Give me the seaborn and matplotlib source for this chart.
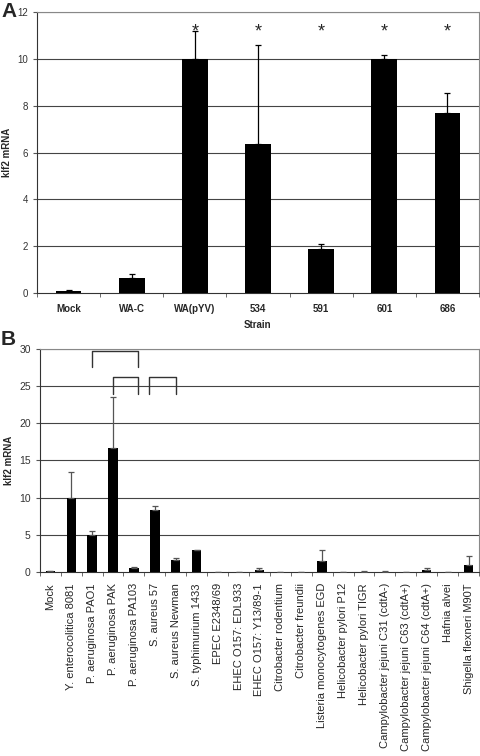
import numpy as np
import pandas as pd
import seaborn as sns
import matplotlib.pyplot as plt

# panel A
strains_a = ["Mock", "WA-C", "WA(pYV)", "534", "591", "601", "686"]
klf2_a = [0.1, 0.65, 10.0, 6.35, 1.9, 10.0, 7.7]
err_a = [0.02, 0.18, 1.2, 4.25, 0.2, 0.15, 0.85]
star_a = [False, False, True, True, True, True, True]

# panel B
strains_b = ["Mock", "Y. enterocolitica 8081", "P. aeruginosa PAO1", "P. aeruginosa PAK",
             "P. aeruginosa PA103", "S. aureus 57", "S. aureus Newman", "S. typhimurium 1433",
             "EPEC E2348/69", "EHEC O157: EDL933", "EHEC O157: Y13/89-1", "Citrobacter rodentium",
             "Citrobacter freundii", "Listeria monocytogenes EGD", "Helicobacter pylori P12",
             "Helicobacter pylori TIGR", "Campylobacter jejuni C31 (cdtA-)",
             "Campylobacter jejuni C63 (cdtA+)", "Campylobacter jejuni C64 (cdtA+)",
             "Hafnia alvei", "Shigella flexneri M90T"]
klf2_b = [0.08, 10.0, 5.0, 16.7, 0.6, 8.4, 1.6, 2.9, 0.05, 0.05, 0.27, 0.03, 0.03,
          1.5, 0.03, 0.05, 0.05, 0.03, 0.27, 0.03, 1.0]
err_b = [0.02, 3.5, 0.5, 6.8, 0.1, 0.5, 0.3, 0.1, 0.0, 0.0, 0.33, 0.0, 0.0,
         1.4, 0.0, 0.1, 0.1, 0.0, 0.33, 0.0, 1.1]
# brackets: (start index, end index, top value, leg bottom value)
brackets_b = [(2, 4.2, 29.7, 27.6), (3, 4.2, 26.2, 24.0), (4.7, 6, 26.2, 24.0)]

sns.set_style("white")
plt.rcParams["font.family"] = ["Liberation Sans", "DejaVu Sans"]

fig = plt.figure(figsize=(4.8, 7.56), dpi=100)
ax1 = fig.add_axes([0.077, 0.6124, 0.921, 0.3717])
ax2 = fig.add_axes([0.083, 0.2434, 0.915, 0.295])

grid_kw = dict(color="#444444", linewidth=0.8, zorder=0)

# ---- panel A ----
dfa = pd.DataFrame({"strain": strains_a, "klf2": klf2_a})
sns.barplot(data=dfa, x="strain", y="klf2", color="black", width=0.41,
            saturation=1, linewidth=0, ax=ax1, zorder=3)
xa = np.arange(len(strains_a))
ax1.errorbar(xa, klf2_a, yerr=[np.zeros(len(xa)), err_a], fmt="none",
             ecolor="black", elinewidth=0.9, capsize=2.5, capthick=0.9, zorder=4)
for i, s in enumerate(star_a):
    if s:
        ax1.text(i, 11.15, "*", ha="center", va="center", fontsize=13)
ax1.set_ylim(0, 12)
ax1.set_xlim(-0.5, len(strains_a) - 0.5)
ax1.set_yticks(range(0, 13, 2))
for v in range(2, 13, 2):
    ax1.axhline(v, **grid_kw)
ax1.set_xlabel("Strain", fontsize=7, fontweight="bold")
ax1.set_ylabel("klf2 mRNA", fontsize=7, fontweight="bold")
ax1.tick_params(axis="x", labelsize=7, length=0, pad=8)
ax1.tick_params(axis="y", labelsize=7, length=3, left=True, color="#555555", labelcolor="#333333")
for lab in ax1.get_xticklabels():
    lab.set_fontweight("bold")
ax1.set_xticks(np.arange(-0.5, len(strains_a)), minor=True)
ax1.tick_params(axis="x", which="minor", length=3, bottom=True, color="#555555")
for sp in ax1.spines.values():
    sp.set_color("#888888")
    sp.set_linewidth(0.8)
ax1.spines["bottom"].set_color("#333333")
ax1.spines["left"].set_color("#333333")

# ---- panel B ----
dfb = pd.DataFrame({"strain": strains_b, "klf2": klf2_b})
sns.barplot(data=dfb, x="strain", y="klf2", color="black", width=0.45,
            saturation=1, linewidth=0, ax=ax2, zorder=3)
xb = np.arange(len(strains_b))
ax2.errorbar(xb, klf2_b, yerr=[np.zeros(len(xb)), err_b], fmt="none",
             ecolor="#555555", elinewidth=0.9, capsize=2, capthick=0.9, zorder=4)
for a, b, top, bot in brackets_b:
    ax2.plot([a, a, b, b], [bot, top, top, bot], color="#333333", lw=1.0, zorder=5)
ax2.set_ylim(0, 30)
ax2.set_xlim(-0.5, len(strains_b) - 0.5)
ax2.set_yticks(range(0, 31, 5))
for v in range(5, 31, 5):
    ax2.axhline(v, **grid_kw)
ax2.set_xlabel("")
ax2.set_ylabel("klf2 mRNA", fontsize=7, fontweight="bold")
ax2.tick_params(axis="x", labelsize=8, length=0, rotation=90, pad=8)
ax2.tick_params(axis="y", labelsize=7.5, length=3, left=True, color="#555555", labelcolor="#333333")
ax2.set_xticks(np.arange(-0.5, len(strains_b)), minor=True)
ax2.tick_params(axis="x", which="minor", length=3, bottom=True, color="#555555")
for sp in ax2.spines.values():
    sp.set_color("#888888")
    sp.set_linewidth(0.8)
ax2.spines["bottom"].set_color("#333333")
ax2.spines["left"].set_color("#333333")

fig.text(0.004, 0.998, "A", fontsize=15, fontweight="bold", va="top")
fig.text(0.002, 0.563, "B", fontsize=15, fontweight="bold", va="top")

fig.savefig("out.png", dpi=100)
